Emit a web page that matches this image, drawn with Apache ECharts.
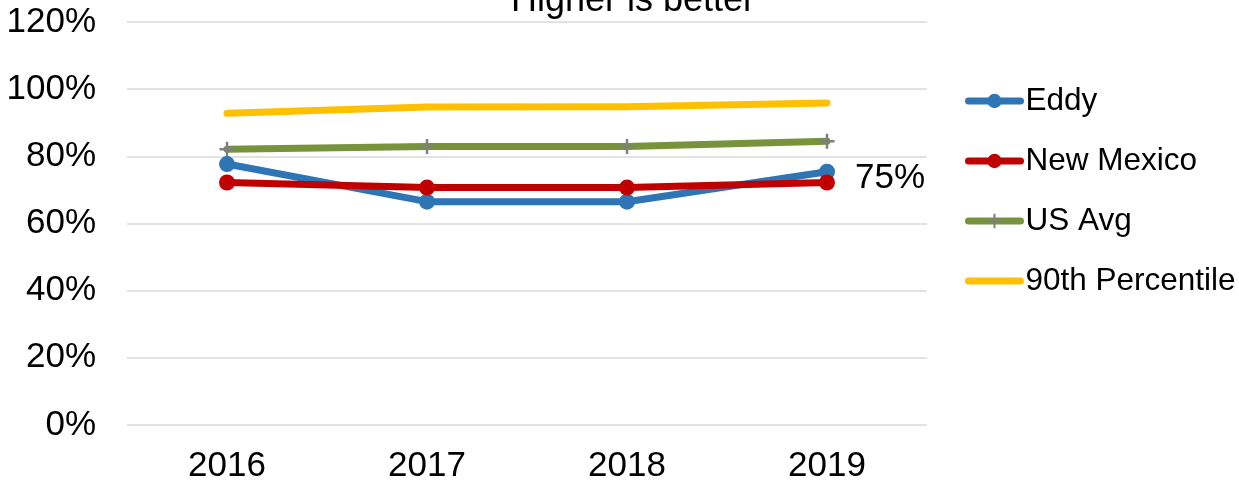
<!DOCTYPE html>
<html>
<head>
<meta charset="utf-8">
<script src="https://cdn.jsdelivr.net/npm/echarts@6/dist/echarts.min.js"></script>
<style>html,body{margin:0;padding:0;background:#fff}#c{width:1239px;height:494px}</style>
</head>
<body>
<div id="c"></div>
<script>
const categories = ['2016', '2017', '2018', '2019'];
const eddy = [0.777, 0.665, 0.665, 0.754];
const newMexico = [0.722, 0.707, 0.707, 0.722];
const usAvg = [0.821, 0.829, 0.829, 0.845];
const p90 = [0.928, 0.947, 0.948, 0.959];
const titleText = 'Higher is better';
const FONT = '"Liberation Sans", Arial, sans-serif';

const chart = echarts.init(document.getElementById('c'), null, {renderer: 'canvas'});
const plus = 'path://M0,5L10,5M5,0L5,10';
function lineSeries(name, data, color, symbol, symbolSize, itemStyle) {
  return {
    name, type: 'line', data,
    symbol, symbolSize,
    lineStyle: {color, width: 7, cap: 'round', join: 'round'},
    itemStyle: itemStyle || {color},
    emphasis: {disabled: true},
    animation: false
  };
}
const option = {
  animation: false,
  textStyle: {fontFamily: FONT},
  graphic: [{
    type: 'text', x: 633, y: 1,
    style: {text: titleText, font: '36px ' + FONT, fill: '#000', textAlign: 'center', textVerticalAlign: 'middle'}
  }],
  grid: {left: 127, right: 312, top: 22, bottom: 69},
  legend: {
    orient: 'vertical', left: 965, top: 85, itemGap: 28, padding: 0,
    itemWidth: 52, itemHeight: 18,
    lineStyle: {width: 7},
    textStyle: {fontSize: 31.5, color: '#000', fontFamily: FONT},
    data: [
      {name: 'Eddy'},
      {name: 'New Mexico'},
      {name: 'US Avg'},
      {name: '90th Percentile', itemStyle: {opacity: 0}}
    ]
  },
  xAxis: {
    type: 'category', data: categories, boundaryGap: true,
    axisLine: {show: false}, axisTick: {show: false},
    axisLabel: {fontSize: 35, color: '#000', margin: 24, fontFamily: FONT}
  },
  yAxis: {
    type: 'value', min: 0, max: 1.2, interval: 0.2,
    axisLine: {show: false}, axisTick: {show: false},
    axisLabel: {fontSize: 35, color: '#000', margin: 31, fontFamily: FONT,
      formatter: v => Math.round(v * 100) + '%'},
    splitLine: {lineStyle: {color: '#D9D9D9', width: 1.5}}
  },
  series: [
    Object.assign(lineSeries('Eddy', eddy, '#2E75B6', 'circle', 16), {
      label: {show: true, position: 'right', distance: 20, offset: [0, 7], fontSize: 35, color: '#000', fontFamily: FONT,
        formatter: p => p.dataIndex === eddy.length - 1 ? Math.round(p.value * 100) + '%' : ''}
    }),
    lineSeries('New Mexico', newMexico, '#C00000', 'circle', 16),
    Object.assign(lineSeries('US Avg', usAvg, '#77933C', plus, 15,
      {color: 'rgba(0,0,0,0)', borderColor: '#7F7F7F', borderWidth: 2.5}), {z: 2}),
    Object.assign(lineSeries('90th Percentile', p90, '#FFC000', 'circle', 1), {showSymbol: false})
  ]
};
chart.setOption(option);
</script>
</body>
</html>
